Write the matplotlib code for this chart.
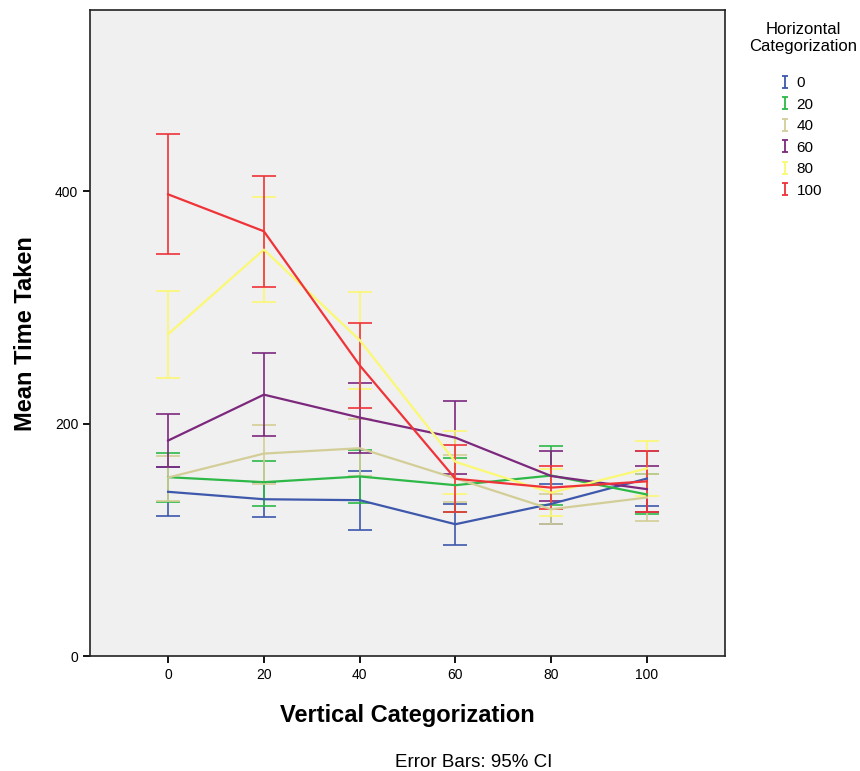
import matplotlib
matplotlib.use('Agg')
import matplotlib.pyplot as plt
from matplotlib.lines import Line2D
from matplotlib.path import Path
import numpy as np

plt.rcParams['font.family'] = ['Liberation Sans', 'DejaVu Sans']

vertical = [0, 20, 40, 60, 80, 100]
horizontal = ['0', '20', '40', '60', '80', '100']
colors = ['#3e58ac', '#2eb848', '#d3ce97', '#7c287d', '#fbf873', '#ef3338']

# mean time taken, lower and upper 95% CI, one list per horizontal category
mean_0 = [141.4, 135.0, 134.2, 113.5, 131.0, 152.8]
low_0 = [120.2, 119.8, 108.4, 96.0, 113.3, 129.3]
high_0 = [162.6, 150.2, 159.7, 131.0, 148.0, 176.3]

mean_20 = [154.0, 149.7, 154.6, 147.1, 155.4, 139.1]
low_20 = [132.2, 129.3, 131.9, 124.0, 129.9, 121.9]
high_20 = [174.9, 168.3, 177.2, 170.3, 180.9, 156.3]

mean_40 = [153.7, 174.3, 178.9, 153.0, 126.4, 136.5]
low_40 = [133.3, 148.5, 154.6, 132.7, 113.3, 116.4]
high_40 = [172.6, 199.3, 203.9, 173.5, 139.4, 156.6]

mean_60 = [185.5, 225.0, 205.3, 188.0, 155.0, 143.7]
low_60 = [162.9, 189.5, 174.9, 157.1, 133.3, 123.7]
high_60 = [208.0, 261.0, 235.0, 219.6, 176.6, 163.7]

mean_80 = [277.0, 349.8, 272.0, 167.2, 140.6, 161.5]
low_80 = [239.4, 304.8, 229.7, 139.6, 120.4, 137.4]
high_80 = [314.0, 394.8, 313.4, 194.1, 160.9, 185.5]

mean_100 = [397.4, 365.6, 250.3, 152.6, 145.0, 150.4]
low_100 = [346.0, 318.0, 213.6, 123.9, 126.2, 124.2]
high_100 = [449.0, 413.0, 287.0, 181.8, 163.7, 176.6]

means = [mean_0, mean_20, mean_40, mean_60, mean_80, mean_100]
lows = [low_0, low_20, low_40, low_60, low_80, low_100]
highs = [high_0, high_20, high_40, high_60, high_80, high_100]

fig = plt.figure(figsize=(8.6, 7.71), dpi=100)
ax = fig.add_axes([0.1047, 0.149, 0.7383, 0.838])
ax.set_facecolor('#f0f0f0')

for m, lo, hi, c in zip(means, lows, highs, colors):
    m = np.array(m)
    yerr = [m - np.array(lo), np.array(hi) - m]
    ax.errorbar(vertical, m, yerr=yerr, color=c, lw=1.6, elinewidth=1.2,
                capsize=8.5, capthick=1.2)

ax.set_xlim(-16.3, 116.3)
ax.set_ylim(0, 556)
ax.set_xticks(vertical)
ax.set_yticks([0, 200, 400])
ax.tick_params(labelsize=10, length=5, width=1.3, direction='out')
for s in ax.spines.values():
    s.set_color('#222222')
    s.set_linewidth(1.2)

ax.set_xlabel('Vertical Categorization', fontsize=17, fontweight='bold', labelpad=16)
ax.set_ylabel('Mean Time Taken', fontsize=17, fontweight='bold', labelpad=13)

# legend marker shaped like an error bar
ibar = Path([(-0.5, -1), (0.5, -1), (0, -1), (0, 1), (-0.5, 1), (0.5, 1)],
            [Path.MOVETO, Path.LINETO, Path.MOVETO, Path.LINETO, Path.MOVETO, Path.LINETO])
handles = [Line2D([], [], ls='none', marker=ibar, markersize=9, markeredgewidth=1.3,
                  markeredgecolor=c, markerfacecolor='none') for c in colors]
fig.text(0.934, 0.9507, 'Horizontal\nCategorization', ha='center', va='center',
         fontsize=12, multialignment='center')
fig.legend(handles, horizontal, loc='upper left', bbox_to_anchor=(0.9047, 0.901),
           frameon=False, fontsize=11, handlelength=0.9, handletextpad=0.3,
           labelspacing=0.49, borderpad=0, borderaxespad=0)

fig.text(0.551, 0.0104, 'Error Bars: 95% CI', ha='center', va='center', fontsize=13.5)

fig.savefig('out.png', dpi=100)
